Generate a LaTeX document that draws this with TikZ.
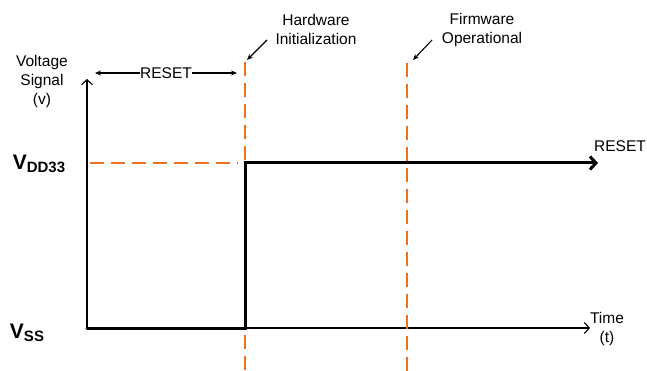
\documentclass[tikz,border=0pt]{standalone}
\usepackage{fontspec}
\setmainfont{Liberation Sans}
\usetikzlibrary{arrows.meta}
\definecolor{markorange}{RGB}{240,112,32}

\begin{document}
\begin{tikzpicture}[x=1pt,y=-1pt,
	marker/.style={draw=markorange,line width=1.8pt,dash pattern=on 14pt off 7pt},
	axis/.style={line width=1.1pt,-{Straight Barb[length=5pt,width=11pt]}},
	signal/.style={line width=3pt,line cap=round,-{Straight Barb[length=6pt,width=13pt]}},
	pointer/.style={line width=1.1pt,-{Stealth[length=6pt,width=5pt]}},
	lbl/.style={font=\fontsize{15.5}{19}\selectfont,align=center,inner sep=0pt}]
	\useasboundingbox (0,0) rectangle (647,371);
	
	% axes
	\coordinate (orig) at (87,328);
	\coordinate (ytop) at (87,79);
	\coordinate (xend) at (590,328);
	\draw[axis] (orig) -- (ytop);
	\draw[axis] (orig) -- (xend);
	
	% orange markers
	\coordinate (hwtop) at (245,62);
	\coordinate (hwbot) at (245,371);
	\coordinate (fwtop) at (407,63);
	\coordinate (fwbot) at (407,371);
	\coordinate (vddl) at (90,163);
	\draw[marker] (hwtop) -- (hwbot);
	\draw[marker] (vddl) -- (238,163);
	
	% reset signal
	\coordinate (low) at (245,328);
	\coordinate (rise) at (245,163);
	\coordinate (high) at (598,163);
	\draw[signal] (orig) -- (low) -- (rise) -- (high);
	\draw[marker] (fwtop) -- (fwbot);
	
	% labels
	\node[lbl] (volt) at (42,81) {Voltage\\Signal\\(v)};
	\node[inner sep=0pt] (vdd) at (39,164) {\fontsize{21}{21}\selectfont\bfseries V\raisebox{-3pt}{\fontsize{15}{15}\selectfont DD33}};
	\node[inner sep=0pt] (vss) at (27,333) {\fontsize{21}{21}\selectfont\bfseries V\raisebox{-3pt}{\fontsize{15}{15}\selectfont SS}};
	\node[lbl] (time) at (607,329) {Time\\(t)};
	\node[lbl] (rstout) at (620,146) {RESET};
	\node[lbl] (hw) at (316,29) {Hardware\\Initialization};
	\node[lbl] (fw) at (482,30) {Firmware\\Operational};
	
	% reset span
	\coordinate (rsl) at (95,73);
	\coordinate (rsr) at (237,73);
	\draw[line width=1.1pt,{Stealth[length=6pt,width=5pt]}-{Stealth[length=6pt,width=5pt]}] (rsl) -- (rsr) node[lbl,midway,fill=white] (rst) {RESET};
	
	% pointers
	\coordinate (hwp) at (267,40);
	\coordinate (hwq) at (247,60);
	\coordinate (fwp) at (432,40);
	\coordinate (fwq) at (413,60);
	\draw[pointer] (hwp) -- (hwq);
	\draw[pointer] (fwp) -- (fwq);
\end{tikzpicture}
\end{document}
